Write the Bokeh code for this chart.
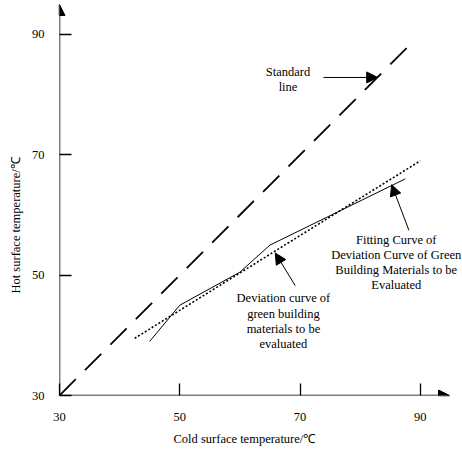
from bokeh.plotting import figure
from bokeh.models import Arrow, NormalHead, Label, FixedTicker, Range1d, Title
from bokeh.embed import file_html
from bokeh.resources import INLINE

# ---- data ----
cold_ticks = [30, 50, 70, 90]
hot_ticks = [30, 50, 70, 90]
standard_x = [30, 89]
standard_y = [30, 89]
deviation_x = [45, 50, 60, 65, 87.5]
deviation_y = [39, 45, 50.5, 55, 66]
fit_x = [42.5, 90]
fit_y = [39.5, 69]

x_title = "Cold surface temperature/℃"
y_title = "Hot surface temperature/℃"
standard_note = ["Standard", "line"]
fit_note = ["Fitting Curve of", "Deviation Curve of Green", "Building Materials to be", "Evaluated"]
dev_note = ["Deviation curve of", "green building", "materials to be", "evaluated"]

FONT = "Liberation Serif"
FS = "12.5px"

p = figure(width=462, height=452,
           x_range=Range1d(30, 97.02), y_range=Range1d(30, 95.65),
           output_backend="svg", toolbar_location=None,
           min_border_left=58, min_border_right=0, min_border_top=0, min_border_bottom=57)
p.outline_line_color = None
p.xgrid.visible = False
p.ygrid.visible = False
p.background_fill_color = "white"

for ax, ticks, standoff in ((p.xaxis[0], cold_ticks, 17), (p.yaxis[0], hot_ticks, 15)):
    ax.ticker = FixedTicker(ticks=ticks)
    ax.axis_line_color = None
    ax.major_tick_in = 12
    ax.major_tick_out = 0
    ax.major_tick_line_width = 1.3
    ax.major_tick_line_color = "black"
    ax.minor_tick_line_color = None
    ax.major_label_text_font = FONT
    ax.major_label_text_font_size = FS
    ax.major_label_text_color = "black"
    ax.major_label_standoff = standoff

# axis titles
p.add_layout(Title(text=x_title, align="left", offset=114, text_font=FONT, text_font_size=FS,
                   text_font_style="normal", text_color="black", standoff=13), "below")
p.add_layout(Title(text=y_title, align="left", offset=102, text_font=FONT, text_font_size=FS,
                   text_font_style="normal", text_color="black", standoff=12), "left")

# axis lines with arrow heads
p.add_layout(Arrow(x_start=30, y_start=30, x_end=94.86, y_end=30, line_width=1.5, line_color="black",
                   end=NormalHead(size=11, fill_color="black", line_color="black", line_width=1)))
p.add_layout(Arrow(x_start=30, y_start=30, x_end=30, y_end=94.98, line_width=1.5, line_color="black",
                   end=NormalHead(size=11, fill_color="black", line_color="black", line_width=1)))

# curves
p.line(standard_x, standard_y, line_color="black", line_width=1.8, line_dash="23 13")
p.line(fit_x, fit_y, line_color="black", line_width=1.6, line_dash="2 2")
p.line(deviation_x, deviation_y, line_color="black", line_width=1)

def note(lines, x, ys):
    for t, y in zip(lines, ys):
        p.add_layout(Label(x=x, y=y, text=t, text_font=FONT, text_font_size=FS,
                           text_align="center", text_baseline="middle", text_color="black"))

note(standard_note, 68.0, [83.69, 81.2])
note(fit_note, 86.0, [55.9, 53.41, 50.86, 48.32])
note(dev_note, 67.24, [46.21, 43.62, 41.01, 38.52])

# annotation arrows
for xs, ys, xe, ye in ((73.9, 82.86, 82.92, 82.86),
                       (69.2, 48.27, 65.88, 53.68),
                       (88.11, 57.45, 85.24, 65.04)):
    p.add_layout(Arrow(x_start=xs, y_start=ys, x_end=xe, y_end=ye, line_width=1, line_color="black",
                       end=NormalHead(size=11, fill_color="black", line_color="black", line_width=1)))

open("out.html", "w").write(file_html(p, INLINE))
